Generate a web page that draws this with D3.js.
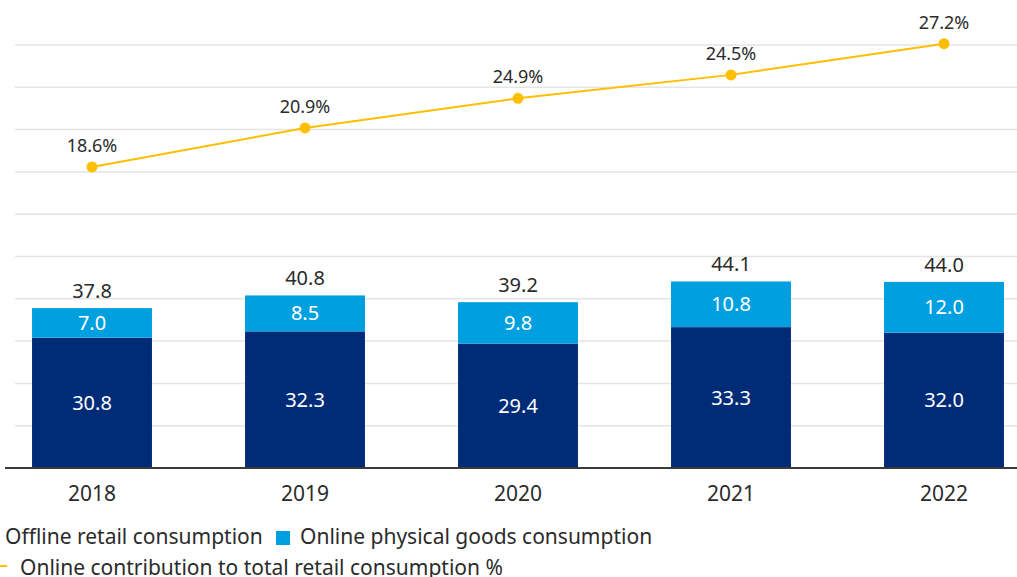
<!DOCTYPE html>
<html>
<head>
<meta charset="utf-8">
<script src="https://cdn.jsdelivr.net/npm/d3@7"></script>
<style>
  body { margin: 0; background: #fff; }
  svg { display: block; font-family: "Noto Sans", "Open Sans", sans-serif; }
</style>
</head>
<body>
<svg width="1017" height="577"></svg>
<script>
var years = ["2018", "2019", "2020", "2021", "2022"];
var offline = [30.8, 32.3, 29.4, 33.3, 32.0];
var online = [7.0, 8.5, 9.8, 10.8, 12.0];
var totals = [37.8, 40.8, 39.2, 44.1, 44.0];
// share line: plotted positions, labels as printed
var share = [19.3, 21.8, 23.7, 25.2, 27.2];
var shareLabels = ["18.6%", "20.9%", "24.9%", "24.5%", "27.2%"];
var legendNames = ["Offline retail consumption", "Online physical goods consumption",
                   "Online contribution to total retail consumption %"];

var navy = "#002c77", blue = "#009fe0", gold = "#ffbe00";

var svg = d3.select("svg");

var x = d3.scaleBand()
    .domain(years)
    .range([-14.5, 1050.5])
    .paddingInner(0.437)
    .paddingOuter(0.2185);

var y = d3.scaleLinear().domain([0, 100]).range([468, 45]);
var y2 = d3.scaleLinear().domain([0, 30]).range([468, 0]);

// gridlines
svg.append("g")
    .selectAll("line")
    .data(d3.range(10, 101, 10))
    .enter().append("line")
    .attr("x1", 15).attr("x2", 1017)
    .attr("y1", function(d) { return y(d); })
    .attr("y2", function(d) { return y(d); })
    .attr("stroke", "#e5e5e5")
    .attr("stroke-width", 1.5);

var rows = years.map(function(yr, i) {
    return {year: yr, offline: offline[i], online: online[i], total: totals[i]};
});

var bars = svg.append("g").selectAll("g")
    .data(rows)
    .enter().append("g");

bars.append("rect")
    .attr("x", function(d) { return x(d.year); })
    .attr("width", x.bandwidth())
    .attr("y", function(d) { return y(d.offline); })
    .attr("height", function(d) { return y(0) - y(d.offline); })
    .attr("fill", navy);

bars.append("rect")
    .attr("x", function(d) { return x(d.year); })
    .attr("width", x.bandwidth())
    .attr("y", function(d) { return y(d.offline + d.online); })
    .attr("height", function(d) { return y(d.offline) - y(d.offline + d.online); })
    .attr("fill", blue);

bars.append("text")
    .attr("x", function(d) { return x(d.year) + x.bandwidth() / 2; })
    .attr("y", function(d) { return (y(0) + y(d.offline)) / 2; })
    .attr("dy", "0.35em")
    .attr("text-anchor", "middle")
    .attr("fill", "#fff")
    .attr("font-size", 20)
    .text(function(d) { return d.offline.toFixed(1); });

bars.append("text")
    .attr("x", function(d) { return x(d.year) + x.bandwidth() / 2; })
    .attr("y", function(d) { return (y(d.offline) + y(d.offline + d.online)) / 2; })
    .attr("dy", "0.35em")
    .attr("text-anchor", "middle")
    .attr("fill", "#fff")
    .attr("font-size", 20)
    .text(function(d) { return d.online.toFixed(1); });

bars.append("text")
    .attr("x", function(d) { return x(d.year) + x.bandwidth() / 2; })
    .attr("y", function(d) { return y(d.offline + d.online) - 10; })
    .attr("text-anchor", "middle")
    .attr("fill", "#2b2b2b")
    .attr("font-size", 20)
    .text(function(d) { return d.total.toFixed(1); });

// baseline
svg.append("line")
    .attr("x1", 5).attr("x2", 1017)
    .attr("y1", y(0)).attr("y2", y(0))
    .attr("stroke", "#3a3a3a")
    .attr("stroke-width", 2);

// x axis labels
var xAxis = svg.append("g")
    .attr("transform", "translate(0," + y(0) + ")")
    .call(d3.axisBottom(x).tickSize(0).tickPadding(18));
xAxis.select(".domain").remove();
xAxis.selectAll("text")
    .attr("font-size", 21)
    .attr("font-family", "Noto Sans, Open Sans, sans-serif")
    .attr("fill", "#2b2b2b");

// share line
var pts = years.map(function(yr, i) { return {year: yr, v: share[i], label: shareLabels[i]}; });
var cx = function(d) { return x(d.year) + x.bandwidth() / 2; };

svg.append("path")
    .datum(pts)
    .attr("fill", "none")
    .attr("stroke", gold)
    .attr("stroke-width", 2)
    .attr("d", d3.line().x(cx).y(function(d) { return y2(d.v); }));

svg.append("g").selectAll("circle")
    .data(pts)
    .enter().append("circle")
    .attr("cx", cx)
    .attr("cy", function(d) { return y2(d.v); })
    .attr("r", 5.5)
    .attr("fill", gold);

svg.append("g").selectAll("text")
    .data(pts)
    .enter().append("text")
    .attr("x", cx)
    .attr("y", function(d) { return y2(d.v) - 15; })
    .attr("text-anchor", "middle")
    .attr("fill", "#2b2b2b")
    .attr("font-size", 18)
    .text(function(d) { return d.label; });

// legend (cropped on the left like the source)
var legend = svg.append("g").attr("font-size", 21).attr("fill", "#2b2b2b");
legend.append("rect").attr("x", -14).attr("y", 531).attr("width", 14).attr("height", 14).attr("fill", navy);
legend.append("text").attr("x", 5).attr("y", 544).text(legendNames[0]);
legend.append("rect").attr("x", 276).attr("y", 531).attr("width", 14).attr("height", 14).attr("fill", blue);
legend.append("text").attr("x", 300).attr("y", 544).text(legendNames[1]);
legend.append("line").attr("x1", -15).attr("x2", 7).attr("y1", 566).attr("y2", 566)
    .attr("stroke", gold).attr("stroke-width", 2);
legend.append("text").attr("x", 20).attr("y", 575).text(legendNames[2]);
</script>
</body>
</html>
